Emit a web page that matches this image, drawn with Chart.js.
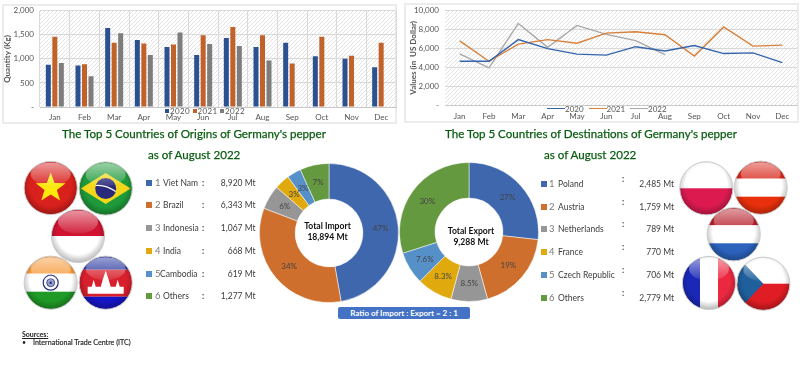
<!DOCTYPE html>
<html><head><meta charset="utf-8">
<script src="https://cdn.jsdelivr.net/npm/chart.js@4"></script>
<style>
html,body{margin:0;padding:0;background:#fff;width:800px;height:370px;overflow:hidden;font-family:Lato,sans-serif}
.a{position:absolute;white-space:nowrap;line-height:1}
canvas{position:absolute}
.panel{position:absolute;border:2px solid #ececec;box-sizing:border-box}
.ttl{color:#0b5d12;font-size:11.6px;-webkit-text-stroke:.25px #0b5d12;transform:translateY(-50%)}
.row{font-size:8.5px;color:#3c3c3c;transform:translateY(-50%)}
.sq{position:absolute;width:6px;height:6px;transform:translateY(-50%)}
.ctr{color:#111;font-size:8.6px;font-weight:700;text-align:center;line-height:10.5px;transform:translate(-50%,-50%)}
.lg{font-size:8px;color:#555;transform:translateY(-50%)}
</style></head><body>
<div class="panel" style="left:2px;top:4px;width:395px;height:120px"></div>
<div class="panel" style="left:404px;top:3px;width:395px;height:120px"></div>
<canvas id="bars" width="400" height="125" style="left:0;top:0;width:400px;height:125px"></canvas>
<canvas id="lines" width="400" height="125" style="left:400px;top:0;width:400px;height:125px"></canvas>
<canvas id="imp" width="144" height="144" style="left:257px;top:161px;width:144px;height:144px"></canvas>
<canvas id="exp" width="144" height="144" style="left:397px;top:160px;width:144px;height:144px"></canvas>
<svg id="flags" width="800" height="370" style="position:absolute;left:0;top:0;pointer-events:none"></svg>
<div id="txt"></div>
<script>
const months=['Jan','Feb','Mar','Apr','May','Jun','Jul','Aug','Sep','Oct','Nov','Dec'];
const years=['2020','2021','2022'];
const qty2020=[880,865,1640,1395,1245,1080,1435,1245,1335,1055,1005,825];
const qty2021=[1460,890,1335,1320,1300,1490,1665,1490,905,1460,1065,1335];
const qty2022=[915,640,1535,1080,1550,1310,1270,965,null,null,null,null];
const val2020=[4640,4640,6940,5980,5400,5290,6190,5740,6320,5460,5530,4500];
const val2021=[6800,4640,6460,6940,6560,7630,7770,7460,5190,8280,6250,6360];
const val2022=[5430,3950,8660,6120,8450,7490,6840,5360,null,null,null,null];
const originNames=['Viet Nam','Brazil','Indonesia','India','Cambodia','Others'];
const originVals=[8920,6343,1067,668,619,1277];
const originPct=['47%','34%','6%','3%','3%','7%'];
const destNames=['Poland','Austria','Netherlands','France','Czech Republic','Others'];
const destVals=[2485,1759,789,770,706,2779];
const destPct=['27%','19%','8.5%','8.3%','7.6%','30%'];
const sliceColors=['#3f67ad','#cf6f2e','#969696','#e0aa0f','#5591c8','#64993f'];
const barColors=['#2c5190','#c0622a','#7d7d7d'];
const lineColors=['#3565ad','#d9803a','#a8a8a8'];

Chart.defaults.font.family='Lato, sans-serif';
Chart.defaults.animation=false;
Chart.defaults.responsive=false;

const hatch={id:'hatch',beforeDraw(c){
  const p=document.createElement('canvas');p.width=p.height=4;
  const x=p.getContext('2d');x.strokeStyle='#dcdcdc';x.lineWidth=.8;
  x.beginPath();x.moveTo(-1,1);x.lineTo(1,-1);x.moveTo(0,4);x.lineTo(4,0);x.moveTo(3,5);x.lineTo(5,3);x.stroke();
  const a=c.chartArea;c.ctx.save();c.ctx.fillStyle=c.ctx.createPattern(p,'repeat');
  c.ctx.fillRect(a.left,a.top,a.right-a.left,a.bottom-a.top);c.ctx.restore();}};

function axes(w,title,max,step,vgrid,ttlPad,xPad){return{
  x:{offset:true,grid:{display:vgrid,offset:true,color:'#d9d9d9',drawTicks:false},border:{color:'#c8c8c8'},
     ticks:{color:'#555',font:{size:8},padding:xPad,maxRotation:0,autoSkip:false},
     afterFit(s){s.height=18}},
  y:{min:0,max,grid:{color:'#d9d9d9',drawTicks:false},border:{display:false},
     ticks:{stepSize:step,color:'#555',font:{size:8},padding:6,
       callback:v=>v===0?'-':v.toLocaleString('en-US')},
     title:{display:true,text:title,color:'#555',font:{size:8,weight:'bold'},padding:{top:ttlPad,bottom:0}},
     afterFit(s){s.width=w}}};}

new Chart(document.getElementById('bars'),{type:'bar',
  data:{labels:months,datasets:[qty2020,qty2021,qty2022].map((d,i)=>({label:years[i],data:d,backgroundColor:barColors[i],
    categoryPercentage:.657,barPercentage:.77}))},
  options:{layout:{padding:{top:9,right:4,left:0,bottom:0}},plugins:{legend:{display:false},tooltip:{enabled:false}},
    scales:axes(40,'Quantity (Kg)',2000,500,true,3,6)},plugins:[hatch]});

new Chart(document.getElementById('lines'),{type:'line',
  data:{labels:months,datasets:[val2020,val2021,val2022].map((d,i)=>({label:years[i],data:d,borderColor:lineColors[i],
    borderWidth:1.4,pointRadius:0,tension:0,spanGaps:false}))},
  options:{layout:{padding:{top:8,right:3,left:0,bottom:2}},plugins:{legend:{display:false},tooltip:{enabled:false}},
    scales:axes(45,'Values (in  US Dollar)',10000,2000,false,9,7)},plugins:[hatch]});

function pctPlugin(labels){return{id:'pct',afterDatasetsDraw(c){
  const g=c.ctx;g.save();g.font='8px Lato, sans-serif';g.fillStyle='#444';g.textAlign='center';g.textBaseline='middle';
  c.getDatasetMeta(0).data.forEach((a,i)=>{const p=a.getCenterPoint();g.fillText(labels[i],p.x,p.y);});g.restore();}};}
function donut(id,vals,names,pct){new Chart(document.getElementById(id),{type:'doughnut',
  data:{labels:names,datasets:[{data:vals,backgroundColor:sliceColors,borderWidth:.5,borderColor:'#fff'}]},
  options:{radius:69.5,cutout:35,plugins:{legend:{display:false},tooltip:{enabled:false}}},plugins:[pctPlugin(pct)]});}
donut('imp',originVals,originNames,originPct);
donut('exp',destVals,destNames,destPct);

const T=document.getElementById('txt');
function add(cls,style,html){const d=document.createElement('div');d.className='a '+cls;d.style.cssText=style;d.innerHTML=html;T.appendChild(d);return d;}
add('ttl','left:62px;top:133.5px',"The Top 5 Countries of Origins of Germany's pepper");
add('ttl','left:445px;top:133.5px',"The Top 5 Countries of Destinations of Germany's pepper");
add('ttl','left:148px;top:154.5px',"as of August 2022");
add('ttl','left:544px;top:154.5px',"as of August 2022");

const leftY=[182.5,205,228,251,273.5,296];
originNames.forEach((n,i)=>{const y=leftY[i];
  add('sq',`left:146px;top:${y}px;background:${sliceColors[i]}`,'');
  add('row',`left:155px;top:${y}px;color:#777;font-size:9.5px`,i+1);
  add('row',`left:${i==4?160:163}px;top:${y}px`,n);
  add('row',`left:202px;top:${y}px;font-weight:700`,':');
  add('row',`right:${800-255.5}px;top:${y}px`,originVals[i].toLocaleString('en-US')+' Mt');});
const rightY=[184,207,229,252,275,298];
destNames.forEach((n,i)=>{const y=rightY[i];
  add('sq',`left:541px;top:${y}px;background:${sliceColors[i]}`,'');
  add('row',`left:549px;top:${y}px;color:#777;font-size:9.5px`,i+1);
  add('row',`left:558px;top:${y}px`,n);
  add('row',`left:622px;top:${y-5}px;font-weight:700`,':');
  add('row',`right:${800-674}px;top:${y}px`,destVals[i].toLocaleString('en-US')+' Mt');});

add('ctr','left:327.5px;top:231px','Total Import<br>18,894 Mt');
add('ctr','left:471px;top:236px','Total Export<br>9,288 Mt');
add('','left:338px;top:307px;width:132px;height:12px;background:#4472c4;border-radius:2px;color:#fff;font-size:8px;font-weight:700;text-align:center;line-height:12px','Ratio of Import : Export = 2 : 1');
add('','left:22px;top:331px;font-size:7px;font-weight:700;color:#222;text-decoration:underline','Sources:');
add('','left:22px;top:339px;font-size:7px;color:#222','•');
add('','left:33px;top:339px;font-size:7.1px;-webkit-text-stroke:.15px #222;color:#222','International Trade Centre (ITC)');

// legends sitting over the x axis
function legend(x0,y,gap,colors,line){years.forEach((yr,i)=>{const x=x0+i*gap;
  if(line){add('',`left:${x}px;top:${y-.7}px;width:18px;height:1.4px;background:${colors[i]}`,'');
    add('lg',`left:${x+18}px;top:${y}px`,yr);}
  else{add('sq',`left:${x}px;top:${y}px;width:4px;height:4px;background:${colors[i]}`,'');
    add('lg',`left:${x+5}px;top:${y}px;letter-spacing:.4px`,yr);}});}
legend(165,110.5,27.5,barColors,false);
legend(547,108.5,41.5,lineColors,true);

// glossy flags
const NS='http://www.w3.org/2000/svg';
const sv=document.getElementById('flags');
sv.innerHTML=`<defs>
<linearGradient id="gl" x1="0" y1="0" x2="0" y2="1"><stop offset="0" stop-color="#fff" stop-opacity=".55"/><stop offset="1" stop-color="#fff" stop-opacity=".08"/></linearGradient>
<radialGradient id="sh" cx=".5" cy=".45" r=".55"><stop offset=".72" stop-color="#000" stop-opacity="0"/><stop offset="1" stop-color="#000" stop-opacity=".28"/></radialGradient>
<clipPath id="cc"><circle r="26.5"/></clipPath></defs>`;
const R=27;
const rect=(x,y,w,h,f)=>`<rect x="${x}" y="${y}" width="${w}" height="${h}" fill="${f}"/>`;
const flagShapes={
 vn:rect(-R,-R,54,54,'#d8201c')+`<polygon fill="#fbe80c" points="0,-15.5 3.9,-5 15,-4.8 6.2,2 9.4,12.6 0,6.5 -9.4,12.6 -6.2,2 -15,-4.8 -3.9,-5"/>`,
 br:rect(-R,-R,54,54,'#1f9a3a')+`<polygon fill="#f2d71a" points="-25,0 0,-15.5 25,0 0,15.5"/><circle r="10.5" fill="#2a2a7c"/><path d="M-10,-3 Q0,-4 10,3" stroke="#fff" stroke-width="1.1" fill="none"/>`,
 id:rect(-R,-R,54,27,'#cf1330')+rect(-R,0,54,27,'#fff'),
 in:rect(-R,-R,54,18,'#f79a3a')+rect(-R,-9,54,18,'#fff')+rect(-R,9,54,18,'#1f9a26')+`<circle r="7.5" fill="#fff" stroke="#24307c" stroke-width="1.2"/><circle r="4" fill="#9aa0cc" stroke="#24307c" stroke-width=".8"/><circle r="1.2" fill="#24307c"/>`,
 kh:rect(-R,-R,54,14,'#1f2f9c')+rect(-R,-13,54,27,'#d8202c')+rect(-R,14,54,13,'#1616c8')+`<path fill="#fff" d="M-18,11 L-18,4 L-14,4 L-12,-3 L-10,4 L-5,4 L-3,-3 L0,-12 L3,-3 L5,4 L10,4 L12,-3 L14,4 L18,4 L18,11 Z"/>`,
 pl:rect(-R,-R,54,27,'#fff')+rect(-R,0,54,27,'#dc1a50'),
 at:rect(-R,-R,54,18,'#d8281c')+rect(-R,-9,54,18,'#fff')+rect(-R,9,54,18,'#e8300c'),
 nl:rect(-R,-R,54,18,'#b8202c')+rect(-R,-9,54,18,'#fff')+rect(-R,9,54,18,'#2a62bc'),
 fr:rect(-R,-R,18,54,'#1a28b8')+rect(-9,-R,18,54,'#fff')+rect(9,-R,18,54,'#ec2840'),
 cz:rect(-R,-R,54,27,'#fff')+rect(-R,0,54,27,'#e01c24')+`<polygon fill="#1f5f9c" points="-27,-27 -27,27 0,0" transform="scale(.95,1)"/>`
};
const place=[['vn',50.7,188],['br',105.7,188.5],['id',78,236],['in',50.7,282.7],['kh',105.7,282.7],
 ['pl',706.3,188.3],['at',760.7,187.7],['nl',733.7,234.3],['fr',709,283],['cz',763.3,283.7]];
place.forEach(([k,x,y])=>{const g=document.createElementNS(NS,'g');g.setAttribute('transform',`translate(${x},${y})`);
 g.innerHTML=`<g clip-path="url(#cc)">${flagShapes[k]}<circle r="26.5" fill="url(#sh)"/><ellipse cy="-14" rx="20" ry="11.5" fill="url(#gl)"/></g><circle r="26.6" fill="none" stroke="#c9c9c9" stroke-width="1"/>`;
 sv.appendChild(g);});
</script></body></html>
